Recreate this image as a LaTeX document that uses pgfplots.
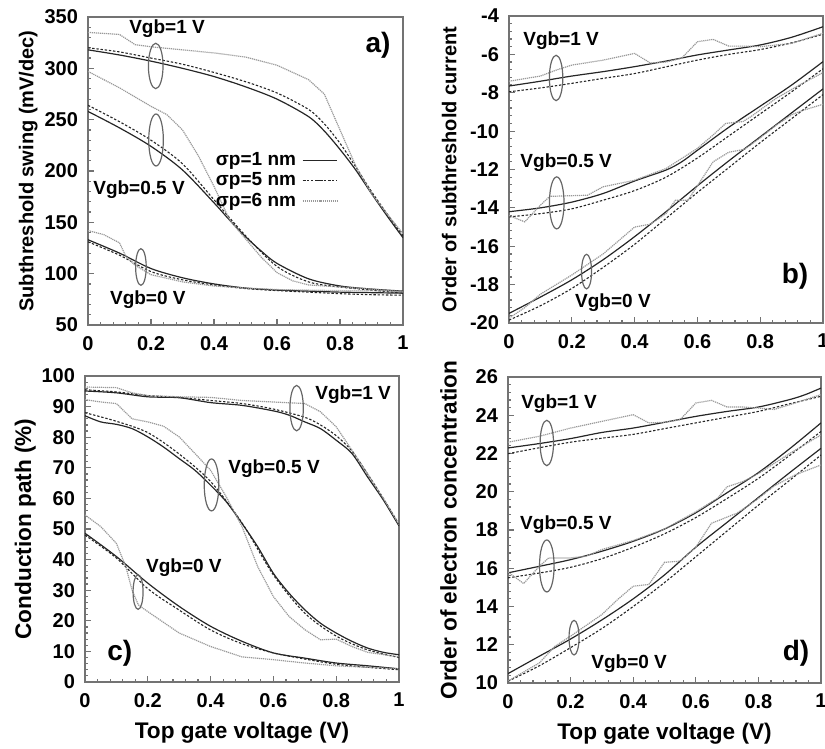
\documentclass[border=0pt]{standalone}
\usepackage{fontspec}
\setmainfont{Liberation Sans}
\usepackage{pgfplots}
\pgfplotsset{compat=1.18}

\newcommand\tickf{\fontsize{10}{12}\selectfont\bfseries}
\newcommand\labf{\fontsize{10}{12}\selectfont\bfseries}
\newcommand\labF{\fontsize{11.3}{13}\selectfont\bfseries}
\newcommand\vgbf{\fontsize{9.5}{11}\selectfont\bfseries}
\newcommand\panf{\fontsize{14}{16}\selectfont\bfseries}

\tikzset{oval/.style={black!60, line width=0.6pt}}
\pgfplotsset{
  panel/.style={
    scale only axis, anchor=south west,
    xmin=0, xmax=1, xtick distance=0.2,
    minor x tick num=4, minor y tick num=4,
    tick align=inside, tick pos=left,
    axis line style={draw=black!55, line width=0.7pt},
    tick style={black!55, line width=0.6pt},
    major tick length=3pt, minor tick length=1.6pt,
    ticklabel style={font=\tickf},
    xticklabel style={yshift=-2pt},
    yticklabel style={xshift=-1.5pt},
    /pgf/number format/assume math mode=true,
    ylabel style={at={(axis description cs:-0.19,0.5)}, anchor=center},
  },
  sig1/.style={black!85, line width=0.6pt, smooth},
  sig5/.style={black!85, line width=0.55pt, dash pattern=on 1.2pt off 0.9pt, smooth},
  sig6/.style={black!40, line width=0.6pt, dash pattern=on 0.6pt off 0.4pt},
}

\begin{document}
\begin{tikzpicture}
\useasboundingbox (0,0) rectangle (412.5pt,374.5pt);

% ---------------- a) ----------------
\begin{axis}[panel, at={(44pt,212pt)}, width=157.5pt, height=154pt,
  ymin=50, ymax=350, ytick distance=50,
  ylabel={\labf Subthreshold swing (mV/dec)},
  legend plot pos=right,
  legend style={at={(rel axis cs:0.812,0.58)}, anchor=north east, draw=none, fill=none,
    font=\vgbf, row sep=0pt, nodes={inner sep=1pt}, /tikz/column sep=2pt},
]
\addplot[sig1] coordinates {(0,318)(0.1,313)(0.2,307)(0.3,300)(0.4,292)(0.5,282)(0.6,270)(0.7,253)(0.75,239)(0.8,221)(0.85,201)(0.9,178)(0.95,156)(1,135)};
\addlegendentry{σp=1 nm}
\addplot[sig5] coordinates {(0,320)(0.1,316)(0.2,310)(0.3,304)(0.4,296)(0.5,287)(0.6,276)(0.7,260)(0.75,246)(0.8,227)(0.85,204)(0.9,180)(0.95,158)(1,137)};
\addlegendentry{σp=5 nm}
\addplot[sig6] coordinates {(0,335)(0.05,334)(0.1,333)(0.15,323)(0.2,321)(0.3,318)(0.4,315)(0.5,311)(0.6,303)(0.7,289)(0.75,275)(0.81,233)(0.85,205)(0.9,178)(0.95,158)(1,139)};
\addlegendentry{σp=6 nm}
\addplot[sig1] coordinates {(0,258)(0.1,242)(0.2,224)(0.3,201)(0.4,169)(0.45,152)(0.5,136)(0.55,122)(0.6,110)(0.7,95)(0.8,88)(0.9,85)(1,83)};
\addplot[sig5] coordinates {(0,264)(0.1,248)(0.2,230)(0.3,207)(0.4,172)(0.5,137)(0.6,107)(0.7,92)(0.8,87)(0.9,84)(1,81)};
\addplot[sig6] coordinates {(0,297)(0.1,281)(0.2,263)(0.25,255)(0.3,240)(0.35,215)(0.4,185)(0.45,152)(0.5,134)(0.55,116)(0.6,101)(0.65,93)(0.7,89)(0.8,87)(0.9,85)(1,82)};
\addplot[sig1] coordinates {(0,133)(0.1,120)(0.2,105)(0.3,96)(0.4,90)(0.5,86)(0.6,84)(0.7,83)(0.8,82)(0.9,81.5)(1,81)};
\addplot[sig5] coordinates {(0,131)(0.1,118)(0.2,102)(0.3,94)(0.4,89)(0.5,85.5)(0.6,83.5)(0.7,82)(0.8,80.5)(0.9,79.5)(1,79)};
\addplot[sig6] coordinates {(0,142)(0.05,138)(0.1,130)(0.12,117)(0.15,108)(0.2,99)(0.3,92)(0.4,88)(0.5,86)(0.6,84.5)(0.8,83.5)(1,83)};
\node[font=\vgbf] at (axis cs:0.251,338.3) {Vgb=1 V};
\node[font=\vgbf] at (axis cs:0.162,181.5) {Vgb=0.5 V};
\node[font=\vgbf] at (axis cs:0.19,74.4) {Vgb=0 V};
\node[font=\panf] at (axis cs:0.921,322.7) {a)};
\draw[oval] (axis cs:0.215,302.3) ellipse [x radius=3.65pt, y radius=11.35pt];
\draw[oval] (axis cs:0.216,230.2) ellipse [x radius=3.65pt, y radius=13pt];
\draw[oval] (axis cs:0.168,106.5) ellipse [x radius=2.65pt, y radius=9.15pt];
\end{axis}

% ---------------- b) ----------------
\begin{axis}[panel, at={(254.5pt,213pt)}, width=157pt, height=153.5pt,
  ymin=-20, ymax=-4, ytick distance=2,
  ylabel={\labf Order of subthreshold current},
]
\addplot[sig1] coordinates {(0,-7.65)(0.1,-7.4)(0.2,-7.13)(0.3,-6.9)(0.4,-6.64)(0.5,-6.35)(0.6,-6.03)(0.7,-5.77)(0.8,-5.51)(0.9,-5.11)(1,-4.56)};
\addplot[sig5] coordinates {(0,-7.95)(0.1,-7.75)(0.2,-7.51)(0.3,-7.25)(0.4,-7.0)(0.5,-6.65)(0.6,-6.3)(0.7,-6.0)(0.8,-5.75)(0.9,-5.4)(1,-4.95)};
\addplot[sig6] coordinates {(0,-7.4)(0.1,-7.13)(0.15,-6.82)(0.2,-6.56)(0.3,-6.3)(0.4,-5.95)(0.45,-6.45)(0.5,-6.4)(0.55,-6.2)(0.6,-5.34)(0.65,-5.22)(0.7,-5.57)(0.75,-5.57)(0.8,-5.6)(0.9,-5.43)(1,-4.9)};
\addplot[sig1] coordinates {(0,-14.2)(0.1,-14.0)(0.2,-13.7)(0.3,-13.25)(0.4,-12.6)(0.5,-12.03)(0.55,-11.6)(0.6,-11.0)(0.7,-9.8)(0.8,-8.7)(0.9,-7.6)(1,-6.38)};
\addplot[sig5] coordinates {(0,-14.47)(0.1,-14.3)(0.2,-14.05)(0.3,-13.6)(0.4,-13.1)(0.5,-12.4)(0.6,-11.4)(0.7,-10.25)(0.8,-9.1)(0.9,-7.95)(1,-6.75)};
\addplot[sig6] coordinates {(0,-14.4)(0.05,-14.73)(0.1,-13.86)(0.13,-13.4)(0.25,-13.34)(0.3,-12.9)(0.4,-12.56)(0.5,-11.95)(0.6,-10.9)(0.65,-10.2)(0.69,-9.6)(0.745,-9.5)(0.77,-9.25)(0.85,-8.3)(0.93,-7.55)(1,-6.95)};
\addplot[sig1] coordinates {(0,-19.5)(0.1,-18.65)(0.2,-17.75)(0.3,-16.7)(0.4,-15.5)(0.5,-14.2)(0.6,-12.85)(0.7,-11.55)(0.8,-10.3)(0.9,-9.05)(1,-7.8)};
\addplot[sig5] coordinates {(0,-19.85)(0.1,-19.1)(0.2,-18.2)(0.3,-17.1)(0.4,-15.9)(0.5,-14.55)(0.6,-13.2)(0.7,-11.9)(0.8,-10.6)(0.9,-9.35)(1,-8.1)};
\addplot[sig6] coordinates {(0,-19.75)(0.05,-19.2)(0.1,-18.5)(0.15,-18.0)(0.2,-17.5)(0.3,-16.4)(0.35,-15.7)(0.4,-15.0)(0.45,-14.85)(0.5,-14.3)(0.53,-13.6)(0.57,-13.6)(0.6,-12.85)(0.65,-11.6)(0.7,-11.1)(0.75,-10.95)(0.8,-10.35)(0.85,-9.7)(0.9,-9.15)(0.93,-8.95)(1,-8.6)};
\node[font=\vgbf] at (axis cs:0.166,-5.30) {Vgb=1 V};
\node[font=\vgbf] at (axis cs:0.182,-11.66) {Vgb=0.5 V};
\node[font=\vgbf] at (axis cs:0.331,-18.96) {Vgb=0 V};
\node[font=\panf] at (axis cs:0.911,-17.55) {b)};
\draw[oval] (axis cs:0.150,-7.23) ellipse [x radius=3.35pt, y radius=11.35pt];
\draw[oval] (axis cs:0.152,-13.74) ellipse [x radius=3.65pt, y radius=13pt];
\draw[oval] (axis cs:0.247,-17.32) ellipse [x radius=2.5pt, y radius=8.65pt];
\end{axis}

% ---------------- c) ----------------
\begin{axis}[panel, at={(42.5pt,33.5pt)}, width=157pt, height=153pt,
  ymin=0, ymax=100, ytick distance=10,
  ylabel={\labF Conduction path (\%)},
  xlabel={\labF Top gate voltage (V)},
  xlabel style={at={(axis description cs:0.5,-0.167)}, anchor=center},
]
\addplot[sig1] coordinates {(0,95.1)(0.1,94.5)(0.2,93.2)(0.3,92.9)(0.4,91.3)(0.5,90.4)(0.6,88.6)(0.65,87.2)(0.7,85)(0.75,82.8)(0.8,79)(0.85,74.7)(0.9,67)(0.95,59.5)(1,51)};
\addplot[sig5] coordinates {(0,95.5)(0.1,94.8)(0.2,93.6)(0.3,93)(0.4,92)(0.5,91)(0.6,89.2)(0.7,86.5)(0.75,84)(0.8,80.5)(0.85,75.5)(0.9,68)(0.95,60)(1,51.5)};
\addplot[sig6] coordinates {(0,96.4)(0.1,96.2)(0.15,94.5)(0.2,93.6)(0.3,93.2)(0.4,93)(0.5,92)(0.6,91.5)(0.7,91)(0.75,88.3)(0.8,83.4)(0.85,75.8)(0.9,68)(0.95,60)(1,51.5)};
\addplot[sig1] coordinates {(0,87)(0.05,85)(0.1,84.2)(0.15,82.8)(0.2,80.1)(0.25,76.8)(0.3,73)(0.35,69.2)(0.4,64.3)(0.45,58.9)(0.5,51.8)(0.55,44.2)(0.6,35.5)(0.65,29)(0.7,23.6)(0.75,19.2)(0.8,16)(0.85,13.3)(0.9,11.1)(0.95,9.7)(1,8.9)};
\addplot[sig5] coordinates {(0,88)(0.1,85.2)(0.2,81.5)(0.3,74.5)(0.4,65.5)(0.5,52)(0.6,35)(0.7,22.5)(0.8,15)(0.9,10.5)(1,8)};
\addplot[sig6] coordinates {(0,92.3)(0.05,91.5)(0.1,91)(0.15,86)(0.2,85)(0.25,83.6)(0.3,80.1)(0.35,74.7)(0.4,69.2)(0.45,60.5)(0.5,50.8)(0.55,37.7)(0.6,27.9)(0.65,21.4)(0.7,17.1)(0.75,13.8)(0.8,14)(0.85,11.6)(0.9,9.7)(1,8.2)};
\addplot[sig1] coordinates {(0,48.6)(0.1,41)(0.2,32.3)(0.3,24.7)(0.4,18.2)(0.5,13.3)(0.6,9.5)(0.7,7.8)(0.8,6.2)(0.9,5.3)(1,4.3)};
\addplot[sig5] coordinates {(0,48)(0.1,40.5)(0.2,30.5)(0.3,23.5)(0.4,17)(0.5,12.5)(0.6,9.5)(0.7,7.5)(0.8,5.8)(0.9,4.8)(1,4)};
\addplot[sig6] coordinates {(0,54.6)(0.05,50.8)(0.1,45.3)(0.13,37.7)(0.15,30)(0.17,25.2)(0.2,23)(0.3,16)(0.4,11.6)(0.5,8.2)(0.6,7.3)(0.7,6.2)(0.8,5.3)(1,4.3)};
\node[font=\vgbf] at (axis cs:0.854,93.8) {Vgb=1 V};
\node[font=\vgbf] at (axis cs:0.602,69.6) {Vgb=0.5 V};
\node[font=\vgbf] at (axis cs:0.315,37.3) {Vgb=0 V};
\node[font=\panf] at (axis cs:0.111,9.5) {c)};
\draw[oval] (axis cs:0.674,89.5) ellipse [x radius=3.35pt, y radius=11.35pt];
\draw[oval] (axis cs:0.403,64.4) ellipse [x radius=3.65pt, y radius=13pt];
\draw[oval] (axis cs:0.169,29.4) ellipse [x radius=2.5pt, y radius=8.65pt];
\end{axis}

% ---------------- d) ----------------
\begin{axis}[panel, at={(254pt,33pt)}, width=156.5pt, height=153pt,
  ymin=10, ymax=26, ytick distance=2,
  ylabel={\labF Order of electron concentration},
  xlabel={\labF Top gate voltage (V)},
  xlabel style={at={(axis description cs:0.5,-0.167)}, anchor=center},
]
\addplot[sig1] coordinates {(0,22.29)(0.1,22.52)(0.2,22.78)(0.3,23.1)(0.4,23.33)(0.5,23.63)(0.6,23.94)(0.7,24.2)(0.8,24.43)(0.9,24.82)(0.95,25.08)(1,25.42)};
\addplot[sig5] coordinates {(0,21.99)(0.1,22.3)(0.2,22.59)(0.3,22.8)(0.4,23.0)(0.5,23.3)(0.6,23.6)(0.7,23.9)(0.8,24.2)(0.9,24.6)(1,24.99)};
\addplot[sig6] coordinates {(0,22.59)(0.1,22.9)(0.2,23.33)(0.3,23.68)(0.4,24.03)(0.45,23.6)(0.5,23.63)(0.55,23.77)(0.6,24.64)(0.65,24.78)(0.7,24.43)(0.75,24.43)(0.8,24.38)(0.85,24.3)(0.9,24.55)(1,25.08)};
\addplot[sig1] coordinates {(0,15.76)(0.1,16.1)(0.2,16.45)(0.3,16.89)(0.4,17.41)(0.5,18.05)(0.6,18.9)(0.7,19.95)(0.8,21.0)(0.9,22.25)(1,23.6)};
\addplot[sig5] coordinates {(0,15.5)(0.1,15.75)(0.2,16.05)(0.3,16.5)(0.4,17.1)(0.5,17.8)(0.6,18.65)(0.7,19.65)(0.8,20.7)(0.9,21.9)(1,23.15)};
\addplot[sig6] coordinates {(0,15.8)(0.05,15.2)(0.1,16.1)(0.13,16.54)(0.2,16.54)(0.25,16.63)(0.3,16.98)(0.4,17.45)(0.5,18.05)(0.6,18.95)(0.67,19.67)(0.7,20.26)(0.75,20.53)(0.8,20.95)(0.9,22.0)(1,22.97)};
\addplot[sig1] coordinates {(0,10.49)(0.1,11.4)(0.2,12.3)(0.3,13.3)(0.4,14.4)(0.5,15.65)(0.6,17.1)(0.7,18.4)(0.8,19.7)(0.9,21.0)(1,22.27)};
\addplot[sig5] coordinates {(0,10.09)(0.1,10.9)(0.2,11.85)(0.3,12.85)(0.4,14.0)(0.5,15.25)(0.6,16.6)(0.7,17.95)(0.8,19.3)(0.9,20.6)(1,21.92)};
\addplot[sig6] coordinates {(0,10.1)(0.1,11.05)(0.15,11.92)(0.2,12.45)(0.3,13.58)(0.35,14.36)(0.4,15.06)(0.45,15.15)(0.5,16.31)(0.55,16.37)(0.6,17.1)(0.65,18.35)(0.73,18.87)(0.763,19.22)(0.8,19.65)(0.85,20.3)(0.92,20.9)(1,21.4)};
\node[font=\vgbf] at (axis cs:0.163,24.59) {Vgb=1 V};
\node[font=\vgbf] at (axis cs:0.185,18.26) {Vgb=0.5 V};
\node[font=\vgbf] at (axis cs:0.387,10.99) {Vgb=0 V};
\node[font=\panf] at (axis cs:0.92,11.57) {d)};
\draw[oval] (axis cs:0.124,22.55) ellipse [x radius=3.35pt, y radius=11.35pt];
\draw[oval] (axis cs:0.124,16.12) ellipse [x radius=3.65pt, y radius=13pt];
\draw[oval] (axis cs:0.211,12.37) ellipse [x radius=2.5pt, y radius=8.65pt];
\end{axis}
\end{tikzpicture}
\end{document}
